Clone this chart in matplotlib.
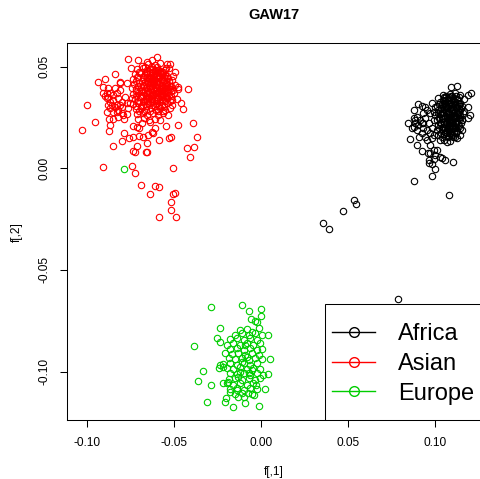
import matplotlib
matplotlib.use('Agg')
import matplotlib.pyplot as plt
from matplotlib.lines import Line2D
from matplotlib.patches import Rectangle

plt.rcParams['font.family'] = ['Liberation Sans', 'DejaVu Sans']

title = 'GAW17'
xlabel = 'f[,1]'
ylabel = 'f[,2]'
groups = ['Africa', 'Asian', 'Europe']
colors = ['black', '#FF0000', '#00CD00']
xticks = [-0.10, -0.05, 0.00, 0.05, 0.10]
yticks = [-0.10, -0.05, 0.00, 0.05]

africa = [
    (0.1084, 0.0365), (0.1113, 0.0369), (0.1142, 0.0361),
    (0.1046, 0.0349), (0.1075, 0.0352), (0.1103, 0.0344), (0.1132, 0.0349), (0.1161, 0.0339),
    (0.1027, 0.0328), (0.1056, 0.0333), (0.1084, 0.0323), (0.1113, 0.0328), (0.1142, 0.0320),
    (0.1008, 0.0307), (0.1037, 0.0311), (0.1065, 0.0303), (0.1094, 0.0311), (0.1123, 0.0303), (0.1151, 0.0307),
    (0.1017, 0.0287), (0.1046, 0.0290), (0.1075, 0.0283), (0.1103, 0.0290), (0.1132, 0.0279), (0.1161, 0.0283),
    (0.0998, 0.0262), (0.1027, 0.0267), (0.1056, 0.0257), (0.1084, 0.0262), (0.1113, 0.0257), (0.1142, 0.0262),
    (0.1008, 0.0238), (0.1037, 0.0241), (0.1065, 0.0234), (0.1094, 0.0241), (0.1123, 0.0234), (0.1151, 0.0238),
    (0.1017, 0.0213), (0.1046, 0.0218), (0.1075, 0.0208), (0.1103, 0.0213), (0.1132, 0.0208),
    (0.1008, 0.0188), (0.1037, 0.0192), (0.1065, 0.0185), (0.1094, 0.0192), (0.1123, 0.0185), (0.1151, 0.0188),
    (0.1017, 0.0164), (0.1046, 0.0169), (0.1075, 0.0159), (0.1103, 0.0164),
    (0.1027, 0.0139), (0.1084, 0.0136),
    (0.1056, 0.0320), (0.1075, 0.0270), (0.1094, 0.0221), (0.1065, 0.0254), (0.1037, 0.0279),
    (0.1113, 0.0246), (0.1056, 0.0197), (0.1084, 0.0172), (0.1027, 0.0221), (0.1123, 0.0274),
    (0.1065, 0.0295), (0.1103, 0.0197), (0.1046, 0.0344), (0.1132, 0.0254), (0.1075, 0.0229),
    (0.0874, 0.0246), (0.0893, 0.0254), (0.0912, 0.0238), (0.0941, 0.0246), (0.0960, 0.0221),
    (0.0931, 0.0221), (0.0979, 0.0197), (0.0950, 0.0188), (0.0922, 0.0172), (0.0970, 0.0172),
    (0.0989, 0.0164), (0.0903, 0.0156), (0.0941, 0.0156), (0.0989, 0.0238), (0.0970, 0.0270),
    (0.0950, 0.0287), (0.0989, 0.0279), (0.0998, 0.0303), (0.0979, 0.0320), (0.0931, 0.0270),
    (0.0884, 0.0221), (0.0864, 0.0197),
    (0.0989, 0.0090), (0.0998, 0.0065), (0.0970, 0.0074),
    (0.1090, 0.0401), (0.1123, 0.0405), (0.1203, 0.0369), (0.1189, 0.0359), (0.0874, 0.0287),
    (0.0845, 0.0221), (0.0855, 0.0143), (0.0893, 0.0115), (0.0922, 0.0087), (0.0956, 0.0077),
    (0.0960, 0.0041), (0.0964, 0.0028), (0.0989, 0.0044), (0.0979, 0.0020), (0.1027, 0.0054),
    (0.1037, 0.0049), (0.1056, 0.0041), (0.1098, 0.0032), (0.0998, -0.0005), (0.0979, -0.0038),
    (0.0874, -0.0062), (0.1079, -0.0131), (0.1008, 0.0090), (0.0897, 0.0315), (0.0922, 0.0306),
    (0.0941, 0.0303), (0.1014, 0.0344), (0.0884, 0.0238), (0.0902, 0.0213), (0.0922, 0.0221),
    (0.0931, 0.0197), (0.0893, 0.0188), (0.0874, 0.0205), (0.1189, 0.0303), (0.1199, 0.0262),
    (0.1184, 0.0246), (0.1153, 0.0240), (0.1142, 0.0164), (0.1126, 0.0148), (0.1113, 0.0155),
    (0.1065, 0.0131), (0.1046, 0.0139), (0.0951, 0.0139), (0.0970, 0.0115), (0.0979, 0.0148),
    (0.0354, -0.0271), (0.0392, -0.0297), (0.0472, -0.0210), (0.0535, -0.0156), (0.0545, -0.0176),
    (0.0784, -0.0643),
    (0.1060, 0.0357), (0.1090, 0.0357), (0.1120, 0.0357),
    (0.1041, 0.0338), (0.1070, 0.0338), (0.1099, 0.0338), (0.1128, 0.0338),
    (0.1020, 0.0316), (0.1050, 0.0316), (0.1079, 0.0316), (0.1108, 0.0316), (0.1137, 0.0316),
    (0.1031, 0.0296), (0.1060, 0.0296), (0.1089, 0.0296), (0.1118, 0.0296), (0.1147, 0.0296),
    (0.1012, 0.0272), (0.1041, 0.0272), (0.1070, 0.0272), (0.1099, 0.0272), (0.1128, 0.0272), (0.1155, 0.0272),
    (0.1022, 0.0249), (0.1051, 0.0249), (0.1080, 0.0249), (0.1108, 0.0249), (0.1137, 0.0249),
    (0.1030, 0.0225), (0.1060, 0.0225), (0.1089, 0.0225), (0.1118, 0.0225), (0.1145, 0.0225),
    (0.1022, 0.0200), (0.1051, 0.0200), (0.1080, 0.0200), (0.1110, 0.0200), (0.1140, 0.0200),
    (0.1030, 0.0176), (0.1060, 0.0176), (0.1089, 0.0176), (0.1118, 0.0176),
    (0.1040, 0.0152), (0.1070, 0.0152), (0.1098, 0.0152),
    (0.1045, 0.0360), (0.1070, 0.0345), (0.1095, 0.0355), (0.1055, 0.0330), (0.1080, 0.0335),
    (0.1105, 0.0330), (0.1125, 0.0340), (0.1040, 0.0315), (0.1062, 0.0310), (0.1088, 0.0318),
    (0.1112, 0.0312), (0.1135, 0.0305), (0.1048, 0.0292), (0.1072, 0.0300), (0.1095, 0.0288),
    (0.1118, 0.0295), (0.1140, 0.0285), (0.1035, 0.0270), (0.1058, 0.0278), (0.1082, 0.0268),
    (0.1105, 0.0275), (0.1128, 0.0265), (0.1042, 0.0250), (0.1068, 0.0245), (0.1090, 0.0252),
    (0.1115, 0.0248), (0.1138, 0.0242), (0.1050, 0.0228), (0.1075, 0.0222), (0.1098, 0.0230),
    (0.1120, 0.0220), (0.1045, 0.0205), (0.1068, 0.0198), (0.1092, 0.0207), (0.1115, 0.0200),
    (0.1055, 0.0180), (0.1080, 0.0185), (0.1105, 0.0178), (0.1062, 0.0160), (0.1088, 0.0165),
]

asian = [
    (-0.0763, 0.0538), (-0.0706, 0.0533), (-0.0598, 0.0549), (-0.0627, 0.0533), (-0.0656, 0.0525),
    (-0.0537, 0.0511), (-0.0522, 0.0511), (-0.0746, 0.0492), (-0.0545, 0.0492), (-0.0526, 0.0492),
    (-0.0838, 0.0462), (-0.0937, 0.0424), (-0.0895, 0.0438), (-0.0809, 0.0426), (-0.0771, 0.0418),
    (-0.0905, 0.0401), (-0.0876, 0.0394), (-0.0908, 0.0372), (-0.0885, 0.0369), (-0.1000, 0.0311),
    (-0.0952, 0.0229), (-0.1027, 0.0187), (-0.0866, 0.0213), (-0.0870, 0.0185), (-0.0847, 0.0110),
    (-0.0908, 0.0006), (-0.0742, 0.0011), (-0.0721, -0.0022), (-0.0688, -0.0084), (-0.0637, -0.0128),
    (-0.0608, -0.0086), (-0.0583, -0.0093), (-0.0503, -0.0126), (-0.0493, -0.0123), (-0.0516, -0.0166),
    (-0.0516, -0.0205), (-0.0583, -0.0240), (-0.0488, -0.0241), (-0.0503, 0.0003), (-0.0407, 0.0054),
    (-0.0426, 0.0101), (-0.0384, 0.0103), (-0.0365, 0.0155), (-0.0388, 0.0224), (-0.0478, 0.0214),
    (-0.0545, 0.0207), (-0.0449, 0.0290), (-0.0421, 0.0390), (-0.0474, 0.0401), (-0.0461, 0.0323),
    (-0.0583, 0.0139), (-0.0526, 0.0148), (-0.0518, 0.0155), (-0.0660, 0.0080), (-0.0655, 0.0078),
    (-0.0733, 0.0085), (-0.0723, 0.0080), (-0.0710, 0.0110), (-0.0656, 0.0126), (-0.0799, 0.0136),
    (-0.0757, 0.0148), (-0.0736, 0.0152), (-0.0786, 0.0175), (-0.0700, 0.0159), (-0.0675, 0.0155),
    (-0.0647, 0.0164), (-0.0618, 0.0172), (-0.0627, 0.0180), (-0.0608, 0.0198), (-0.0733, 0.0208),
    (-0.0700, 0.0197),
    (-0.0885, 0.0344), (-0.0866, 0.0328), (-0.0847, 0.0336), (-0.0828, 0.0311), (-0.0866, 0.0295),
    (-0.0847, 0.0279), (-0.0818, 0.0287), (-0.0799, 0.0303), (-0.0790, 0.0262), (-0.0818, 0.0251),
    (-0.0847, 0.0243), (-0.0870, 0.0241), (-0.0786, 0.0241), (-0.0771, 0.0267), (-0.0761, 0.0295),
    (-0.0751, 0.0320), (-0.0742, 0.0344), (-0.0828, 0.0369), (-0.0809, 0.0385), (-0.0837, 0.0394),
    (-0.0866, 0.0369), (-0.0895, 0.0356), (-0.0876, 0.0349), (-0.0847, 0.0361), (-0.0818, 0.0344),
    (-0.0799, 0.0328), (-0.0780, 0.0352), (-0.0771, 0.0320), (-0.0837, 0.0303), (-0.0809, 0.0311),
    (-0.0876, 0.0311), (-0.0857, 0.0311), (-0.0828, 0.0279), (-0.0799, 0.0270), (-0.0885, 0.0279),
    (-0.0809, 0.0418),
    (-0.0685, 0.0503), (-0.0646, 0.0513), (-0.0608, 0.0508), (-0.0580, 0.0516),
    (-0.0713, 0.0487), (-0.0675, 0.0492), (-0.0652, 0.0480), (-0.0622, 0.0490), (-0.0589, 0.0484),
    (-0.0560, 0.0475), (-0.0493, 0.0475),
    (-0.0723, 0.0464), (-0.0694, 0.0467), (-0.0666, 0.0459), (-0.0637, 0.0470), (-0.0608, 0.0462),
    (-0.0580, 0.0467), (-0.0551, 0.0459), (-0.0503, 0.0454),
    (-0.0736, 0.0438), (-0.0704, 0.0447), (-0.0675, 0.0438), (-0.0652, 0.0447), (-0.0627, 0.0438),
    (-0.0599, 0.0447), (-0.0570, 0.0438), (-0.0541, 0.0443), (-0.0513, 0.0434),
    (-0.0729, 0.0415), (-0.0698, 0.0421), (-0.0671, 0.0410), (-0.0646, 0.0421), (-0.0618, 0.0413),
    (-0.0595, 0.0423), (-0.0570, 0.0410), (-0.0545, 0.0418), (-0.0522, 0.0407), (-0.0493, 0.0410),
    (-0.0742, 0.0393), (-0.0717, 0.0388), (-0.0690, 0.0398), (-0.0664, 0.0385), (-0.0637, 0.0395),
    (-0.0612, 0.0385), (-0.0585, 0.0397), (-0.0560, 0.0385), (-0.0532, 0.0392), (-0.0503, 0.0385),
    (-0.0474, 0.0388),
    (-0.0732, 0.0365), (-0.0704, 0.0372), (-0.0679, 0.0360), (-0.0652, 0.0369), (-0.0627, 0.0359),
    (-0.0602, 0.0372), (-0.0580, 0.0360), (-0.0555, 0.0369), (-0.0526, 0.0360), (-0.0499, 0.0369),
    (-0.0723, 0.0339), (-0.0694, 0.0349), (-0.0666, 0.0336), (-0.0641, 0.0346), (-0.0614, 0.0336),
    (-0.0589, 0.0346), (-0.0564, 0.0336), (-0.0537, 0.0344), (-0.0511, 0.0336), (-0.0484, 0.0343),
    (-0.0732, 0.0316), (-0.0704, 0.0323), (-0.0675, 0.0311), (-0.0646, 0.0320), (-0.0622, 0.0310),
    (-0.0595, 0.0320), (-0.0570, 0.0311), (-0.0541, 0.0320), (-0.0513, 0.0311),
    (-0.0717, 0.0290), (-0.0688, 0.0298), (-0.0660, 0.0287), (-0.0633, 0.0295), (-0.0604, 0.0287),
    (-0.0580, 0.0295), (-0.0551, 0.0287), (-0.0522, 0.0295),
    (-0.0710, 0.0267), (-0.0679, 0.0274), (-0.0652, 0.0262), (-0.0622, 0.0270), (-0.0593, 0.0262),
    (-0.0560, 0.0270), (-0.0532, 0.0262),
    (-0.0704, 0.0241), (-0.0671, 0.0246), (-0.0641, 0.0238), (-0.0608, 0.0244), (-0.0580, 0.0238),
    (-0.0637, 0.0426), (-0.0608, 0.0402), (-0.0589, 0.0377), (-0.0627, 0.0377), (-0.0656, 0.0402),
    (-0.0580, 0.0418), (-0.0599, 0.0352), (-0.0618, 0.0360), (-0.0646, 0.0352), (-0.0560, 0.0402),
    (-0.0675, 0.0377), (-0.0608, 0.0434), (-0.0580, 0.0328), (-0.0637, 0.0320), (-0.0666, 0.0426),
    (-0.0622, 0.0454), (-0.0595, 0.0393), (-0.0641, 0.0410), (-0.0614, 0.0421), (-0.0570, 0.0369),
    (-0.0660, 0.0339), (-0.0602, 0.0323), (-0.0685, 0.0221), (-0.0710, 0.0202), (-0.0637, 0.0230),
    (-0.0665, 0.0497), (-0.0627, 0.0497), (-0.0595, 0.0497),
    (-0.0700, 0.0472), (-0.0660, 0.0472), (-0.0623, 0.0472), (-0.0594, 0.0472), (-0.0570, 0.0472),
    (-0.0710, 0.0451), (-0.0680, 0.0451), (-0.0640, 0.0451), (-0.0612, 0.0451), (-0.0585, 0.0451), (-0.0556, 0.0451),
    (-0.0715, 0.0428), (-0.0685, 0.0428), (-0.0655, 0.0428), (-0.0625, 0.0428), (-0.0600, 0.0428),
    (-0.0557, 0.0428), (-0.0530, 0.0428),
    (-0.0705, 0.0403), (-0.0678, 0.0403), (-0.0624, 0.0403), (-0.0572, 0.0403), (-0.0545, 0.0403), (-0.0517, 0.0403),
    (-0.0720, 0.0380), (-0.0690, 0.0380), (-0.0650, 0.0380), (-0.0600, 0.0380), (-0.0572, 0.0380),
    (-0.0545, 0.0380), (-0.0515, 0.0380),
    (-0.0715, 0.0355), (-0.0690, 0.0355), (-0.0660, 0.0355), (-0.0630, 0.0355), (-0.0575, 0.0355),
    (-0.0545, 0.0355), (-0.0515, 0.0355),
    (-0.0708, 0.0330), (-0.0680, 0.0330), (-0.0652, 0.0330), (-0.0628, 0.0330), (-0.0600, 0.0330),
    (-0.0550, 0.0330), (-0.0525, 0.0330),
    (-0.0718, 0.0305), (-0.0690, 0.0305), (-0.0660, 0.0305), (-0.0610, 0.0305), (-0.0583, 0.0305), (-0.0556, 0.0305),
    (-0.0700, 0.0280), (-0.0670, 0.0280), (-0.0640, 0.0280), (-0.0590, 0.0280), (-0.0565, 0.0280),
    (-0.0640, 0.0490), (-0.0610, 0.0485), (-0.0580, 0.0478), (-0.0550, 0.0483),
    (-0.0655, 0.0465), (-0.0625, 0.0470), (-0.0598, 0.0458), (-0.0568, 0.0462), (-0.0540, 0.0455),
    (-0.0645, 0.0445), (-0.0615, 0.0440), (-0.0588, 0.0450), (-0.0560, 0.0440), (-0.0532, 0.0445),
    (-0.0650, 0.0418), (-0.0622, 0.0425), (-0.0595, 0.0415), (-0.0565, 0.0425), (-0.0538, 0.0412),
    (-0.0660, 0.0395), (-0.0632, 0.0390), (-0.0605, 0.0398), (-0.0578, 0.0390), (-0.0550, 0.0395),
    (-0.0522, 0.0390), (-0.0645, 0.0372), (-0.0615, 0.0365), (-0.0588, 0.0370), (-0.0560, 0.0362),
    (-0.0533, 0.0372), (-0.0655, 0.0348), (-0.0625, 0.0342), (-0.0598, 0.0340), (-0.0568, 0.0350),
    (-0.0540, 0.0345),
]

europe = [
    (-0.0120, -0.0795), (-0.0082, -0.0792), (-0.0053, -0.0804), (-0.0015, -0.0787),
    (-0.0149, -0.0820), (-0.0111, -0.0812), (-0.0072, -0.0820), (-0.0034, -0.0812), (0.0004, -0.0820),
    (-0.0178, -0.0841), (-0.0140, -0.0836), (-0.0101, -0.0844), (-0.0063, -0.0836), (-0.0025, -0.0844),
    (-0.0197, -0.0869), (-0.0159, -0.0861), (-0.0120, -0.0869), (-0.0082, -0.0861), (-0.0044, -0.0869),
    (-0.0006, -0.0861),
    (-0.0178, -0.0890), (-0.0140, -0.0885), (-0.0101, -0.0894), (-0.0063, -0.0885), (-0.0025, -0.0894),
    (0.0004, -0.0890),
    (-0.0207, -0.0910), (-0.0168, -0.0913), (-0.0130, -0.0907), (-0.0092, -0.0918), (-0.0053, -0.0910),
    (-0.0015, -0.0918),
    (-0.0187, -0.0935), (-0.0149, -0.0940), (-0.0111, -0.0931), (-0.0072, -0.0943), (-0.0034, -0.0935),
    (0.0004, -0.0940),
    (-0.0216, -0.0963), (-0.0178, -0.0959), (-0.0140, -0.0968), (-0.0101, -0.0959), (-0.0063, -0.0968),
    (-0.0025, -0.0959),
    (-0.0197, -0.0984), (-0.0159, -0.0989), (-0.0120, -0.0979), (-0.0082, -0.0989), (-0.0044, -0.0984),
    (-0.0006, -0.0989),
    (-0.0178, -0.1009), (-0.0140, -0.1012), (-0.0101, -0.1005), (-0.0063, -0.1017), (-0.0025, -0.1009),
    (0.0009, -0.1017),
    (-0.0187, -0.1038), (-0.0149, -0.1033), (-0.0111, -0.1041), (-0.0072, -0.1033), (-0.0034, -0.1041),
    (-0.0006, -0.1033),
    (-0.0197, -0.1058), (-0.0159, -0.1066), (-0.0120, -0.1058), (-0.0082, -0.1066), (-0.0044, -0.1058),
    (-0.0178, -0.1087), (-0.0140, -0.1082), (-0.0101, -0.1091), (-0.0063, -0.1082), (-0.0025, -0.1087),
    (-0.0149, -0.1110), (-0.0111, -0.1107), (-0.0053, -0.1110),
    (-0.0092, -0.0869), (-0.0111, -0.0951), (-0.0072, -0.1009), (-0.0130, -0.1025), (-0.0053, -0.0992),
    (-0.0082, -0.0926), (-0.0120, -0.1000),
    (-0.0287, -0.0684), (-0.0111, -0.0672), (-0.0067, -0.0700), (-0.0002, -0.0692), (-0.0002, -0.0727),
    (-0.0059, -0.0743), (-0.0034, -0.0750), (-0.0021, -0.0755), (-0.0235, -0.0787), (-0.0251, -0.0836),
    (-0.0235, -0.0853), (-0.0384, -0.0873), (0.0042, -0.0820), (0.0052, -0.0938), (-0.0335, -0.0996),
    (-0.0360, -0.1045), (-0.0287, -0.1066), (0.0042, -0.1012), (0.0023, -0.1086), (-0.0312, -0.1151),
    (-0.0207, -0.1148), (-0.0201, -0.1131), (-0.0159, -0.1173), (-0.0092, -0.1156), (-0.0011, -0.1169),
    (-0.0040, -0.1115), (-0.0235, -0.0968), (-0.0239, -0.0984), (-0.0216, -0.0979), (-0.0220, -0.1055),
    (-0.0188, -0.1050), (-0.0130, -0.1124), (-0.0101, -0.1124), (-0.0073, -0.1107), (-0.0178, -0.1099),
    (-0.0139, -0.1091), (-0.0029, -0.1066),
    (-0.0784, -0.0003),
]

W, H = 481, 479
fig = plt.figure(figsize=(W / 100, H / 100), dpi=100)
fig.patch.set_facecolor('white')
ax = fig.add_axes([66.7 / W, (H - 420) / H, (W - 66.7) / W, (420 - 43.3) / H])

for pts, c in zip([africa, asian, europe], colors):
    xs = [p[0] for p in pts]
    ys = [p[1] for p in pts]
    ax.plot(xs, ys, ls='none', marker='o', ms=4.6, mfc='none', mec=c, mew=0.8)

ax.set_xlim(-0.1115, 0.1261)
ax.set_ylim(-0.1238, 0.0615)
ax.set_xticks(xticks)
ax.set_xticklabels([f'{t:.2f}' for t in xticks])
ax.set_yticks(yticks)
ax.set_yticklabels([f'{t:.2f}' for t in yticks], rotation=90, va='center')
ax.tick_params(direction='out', length=5, width=0.75, labelsize=8.6, pad=7, colors='black')
for s in ax.spines.values():
    s.set_linewidth(0.75)

ax.set_title(title, fontsize=10.5, fontweight='bold', pad=17.5)
ax.set_xlabel(xlabel, fontsize=8.6)
ax.xaxis.label.set_va('center')
ax.xaxis.set_label_coords(0.5, (420 - 472) / (420 - 43.3))
ax.set_ylabel(ylabel, fontsize=8.6)
ax.yaxis.label.set_va('center')
ax.yaxis.set_label_coords((17 - 66.7) / (W - 66.7), 0.5)

box = Rectangle((0.6235, 0.0), 0.40, 0.308, transform=ax.transAxes,
                facecolor='white', edgecolor='black', lw=0.75, zorder=4, clip_on=True)
ax.add_patch(box)
handles = [Line2D([0], [0], color=c, lw=1, marker='o', ms=7, mfc='none', mec=c, mew=1)
           for c in colors]
leg = ax.legend(handles, groups, loc='center left', bbox_to_anchor=(0.6404, 0.1487),
                borderpad=0, borderaxespad=0, frameon=False, fontsize=17,
                handlelength=1.82, handletextpad=0.97, labelspacing=0.32)
leg.set_zorder(5)

fig.savefig('out.png', dpi=100, facecolor='white')
